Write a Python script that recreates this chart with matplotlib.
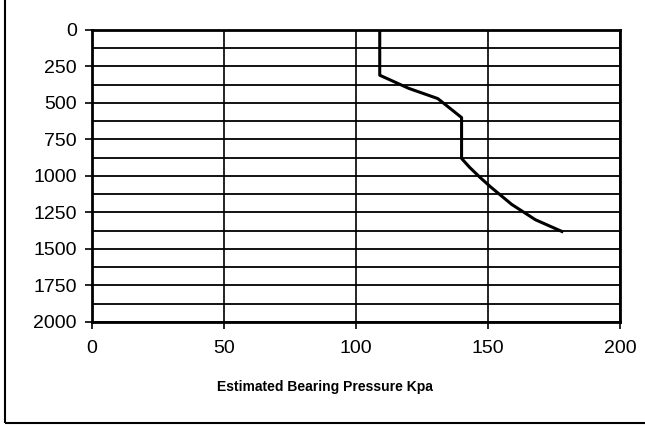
import matplotlib

matplotlib.use("Agg")
import matplotlib.pyplot as plt
from matplotlib.patches import Rectangle
from matplotlib.ticker import MultipleLocator

# estimated bearing pressure (kPa) vs depth (mm)
pressure = [109, 109, 120, 131, 140, 140, 143, 147, 151, 159, 168, 178]
depth = [0, 310, 400, 470, 600, 880, 940, 1010, 1075, 1195, 1300, 1380]

x_ticks = [0, 50, 100, 150, 200]
y_ticks = [0, 250, 500, 750, 1000, 1250, 1500, 1750, 2000]

plt.rcParams["font.family"] = ["Liberation Sans", "DejaVu Sans"]

fig = plt.figure(figsize=(6.45, 4.28), dpi=100)
ax = fig.add_axes([0.1426, 0.2477, 0.8186, 0.6823])

ax.plot(pressure, depth, color="black", lw=2.2, zorder=3)

ax.set_xlim(0, 200)
ax.set_ylim(2000, 0)
ax.set_xticks(x_ticks)
ax.set_yticks(y_ticks)
ax.yaxis.set_minor_locator(MultipleLocator(125))
ax.grid(True, which="major", axis="x", color="black", lw=1.2)
ax.grid(True, which="both", axis="y", color="black", lw=1.3)
ax.tick_params(axis="both", which="major", direction="out", length=5, width=1.2,
               labelsize=14, color="black")
ax.tick_params(axis="y", which="minor", length=0)
ax.tick_params(axis="x", pad=8)
ax.tick_params(axis="y", pad=6)
for sp in ax.spines.values():
    sp.set_linewidth(2)

# axis title sits left of the axes centre in the original
fig.text(325 / 645, 1 - 387 / 428, "Estimated Bearing Pressure Kpa",
         fontsize=10, fontweight="bold", ha="center", va="center")

# outer frame of the scanned page
fig.patches.append(Rectangle((0.008, 0.012), 1.2, 1.2, transform=fig.transFigure,
                             fill=False, lw=1.5, color="black"))

fig.savefig("out.png", dpi=100)
